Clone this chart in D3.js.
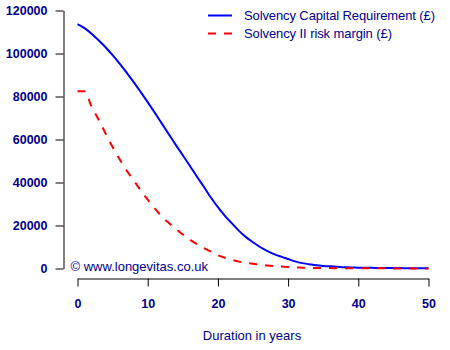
<!DOCTYPE html>
<html>
<head>
<meta charset="utf-8">
<script src="https://cdn.jsdelivr.net/npm/d3@7"></script>
<style>
  html, body { margin: 0; padding: 0; background: #fff; }
  svg { display: block; }
  text { font-family: "Liberation Sans", Arial, sans-serif; }
</style>
</head>
<body>
<script>
const years = d3.range(0, 51);
const scr = [113700, 111800, 109200, 106200, 102900, 99200, 95300, 91100, 86700, 82100,
             77400, 72500, 67500, 62500, 57500, 52700, 47800, 42800, 38000, 33000,
             28500, 24500, 21000, 17500, 14600, 12200, 10000, 8200, 6700, 5500,
             4400, 3300, 2500, 2000, 1500, 1200, 1000, 800, 600, 500,
             400, 350, 300, 250, 220, 200, 180, 160, 140, 120, 100];
const riskMargin = [82500, 82500, 75300, 69300, 62800, 56500, 50800, 45600, 41000, 36400,
             32000, 28000, 24200, 21200, 18500, 15800, 13400, 11300, 9500, 7800,
             6200, 5000, 4000, 3200, 2700, 2200, 1800, 1400, 1100, 900,
             700, 500, 400, 300, 250, 200, 180, 160, 140, 120,
             100, 90, 80, 70, 60, 55, 50, 45, 40, 35, 30];
const yTicks = [0, 20000, 40000, 60000, 80000, 100000, 120000];
const xTicks = [0, 10, 20, 30, 40, 50];
const seriesNames = ["Solvency Capital Requirement (\u00a3)", "Solvency II risk margin (\u00a3)"];
const seriesColors = ["#0000ff", "#ff0000"];
const xTitle = "Duration in years";
const copyright = "\u00a9 www.longevitas.co.uk";

const W = 450, H = 350;
const textColor = "#00008b";
const svg = d3.select("body").append("svg").attr("width", W).attr("height", H);

const x = d3.scaleLinear().domain([0, 50]).range([77.5, 428.5]);
const y = d3.scaleLinear().domain([0, 120000]).range([268.5, 10.5]);

// Y axis
const yAxis = svg.append("g").attr("transform", "translate(63.5,0)")
  .call(d3.axisLeft(y).tickValues(yTicks).tickSize(8).tickSizeOuter(0).tickPadding(8).tickFormat(d3.format("d")));
// X axis
const xAxis = svg.append("g").attr("transform", "translate(0,278.5)")
  .call(d3.axisBottom(x).tickValues(xTicks).tickSize(8).tickSizeOuter(0).tickPadding(13).tickFormat(d3.format("d")));

[yAxis, xAxis].forEach(g => {
  g.selectAll("path.domain").attr("stroke", "#000").attr("stroke-width", 1);
  g.selectAll(".tick line").attr("stroke", "#000").attr("stroke-width", 1);
  g.selectAll(".tick text").attr("fill", textColor).attr("font-size", 12.5)
    .attr("font-weight", "bold").attr("font-family", "Liberation Sans, Arial, sans-serif");
});

// Lines
const line = d3.line().x((d, i) => x(years[i])).y(d => y(d)).curve(d3.curveMonotoneX);
svg.append("path").datum(scr).attr("d", line)
  .attr("fill", "none").attr("stroke", seriesColors[0]).attr("stroke-width", 2);
svg.append("path").datum(riskMargin).attr("d", line)
  .attr("fill", "none").attr("stroke", seriesColors[1]).attr("stroke-width", 2)
  .attr("stroke-dasharray", "8,8");

// Legend
const legWidths = [191, 148];
const leg = svg.append("g");
seriesNames.forEach((name, i) => {
  const yy = 15.5 + i * 18;
  leg.append("line").attr("x1", 208).attr("x2", 232).attr("y1", yy).attr("y2", yy)
    .attr("stroke", seriesColors[i]).attr("stroke-width", 2)
    .attr("stroke-dasharray", i === 1 ? "8,8" : null);
  leg.append("text").attr("x", 244).attr("y", yy).attr("dy", "0.35em")
    .attr("fill", textColor).attr("font-size", 13)
    .attr("textLength", legWidths[i]).attr("lengthAdjust", "spacing").text(name);
});

// Copyright
svg.append("text").attr("x", 70.5).attr("y", 266).attr("dy", "0.35em")
  .attr("fill", textColor).attr("font-size", 13)
  .attr("textLength", 137.5).attr("lengthAdjust", "spacing").text(copyright);

// X title
svg.append("text").attr("x", 252).attr("y", 335).attr("dy", "0.35em")
  .attr("text-anchor", "middle").attr("fill", textColor).attr("font-size", 13).text(xTitle);
</script>
</body>
</html>
